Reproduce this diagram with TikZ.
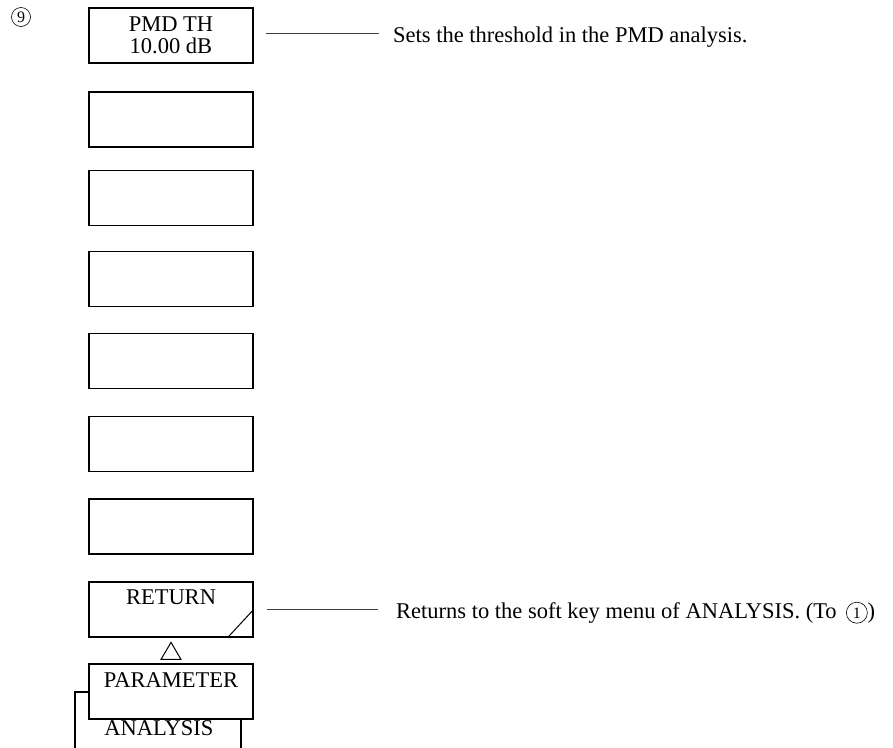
\documentclass[tikz,border=0pt]{standalone}
\usepackage{fontspec}
\setmainfont{Liberation Serif}
\usetikzlibrary{positioning,calc}

\tikzset{
  key/.style={draw, line width=1.2pt, fill=white, minimum width=164pt,
    minimum height=55pt, inner sep=0pt, align=center},
  keytxt/.style={inner sep=0pt, anchor=base},
  desc/.style={inner sep=0pt, anchor=base west},
  leader/.style={gray!50!black, line width=0.5pt, dash pattern=on 0.6pt off 0.4pt},
  circnum/.style={draw, circle, line width=0.6pt, inner sep=0pt, minimum size=21pt,
    font=\fontsize{16}{16}\selectfont},
}
\newcommand{\circref}[1]{\tikz[baseline=(cn.base)]\node[circnum] (cn) {#1};}

\begin{document}
\begin{tikzpicture}[x=1pt, y=-1pt, font=\fontsize{22.5}{22}\selectfont]
    \useasboundingbox (0,0) rectangle (893,747);
    \clip (0,0) rectangle (893,747);

    \node[circnum, minimum size=19pt] (num) at (21,17) {9};

    % ANALYSIS key sits behind PARAMETER
    \node[key, minimum width=166pt, minimum height=80pt] (ana) at (158,732) {};
    \node[keytxt] (anatxt) at ($(ana.north)+(1,44)$) {ANALYSIS};

    \node[key] (par) at (171,691.5) {};
    \node[keytxt] (partxt) at ($(par.north)+(0,24)$) {PARAMETER};

    \node[key] (k1) at (171,35.5) {PMD TH\\10.00 dB};
    \foreach \i/\y in {2/119.5, 3/198, 4/279, 5/361, 6/444, 7/526.5}
        \node[key] (k\i) at (171,\y) {};

    \node[key] (ret) at (171,609.5) {};
    \node[keytxt] (rettxt) at ($(ret.north)+(0,23)$) {RETURN};
    \draw[line width=1pt] ($(ret.south east)+(-26,0)$) -- (ret.east);

    % up mark between RETURN and PARAMETER
    \draw[line width=1pt] ($(par.north)+(0,-4)$) ++(-10,0) -- ++(20,0) -- ++(-10,-17) -- cycle;

    \node[desc] (d1) at (393,42) {Sets the threshold in the PMD analysis.};
    \node[desc] (d2) at (396,618) {Returns to the soft key menu of ANALYSIS. (To\, \circref{1})};

    \draw[leader] ($(k1.east)+(12,-2)$) -- ($(d1.west |- k1.east)+(-15,-2)$);
    \draw[leader] ($(ret.east)+(13,0)$) -- ($(d2.west |- ret.east)+(-19,0)$);
\end{tikzpicture}
\end{document}
